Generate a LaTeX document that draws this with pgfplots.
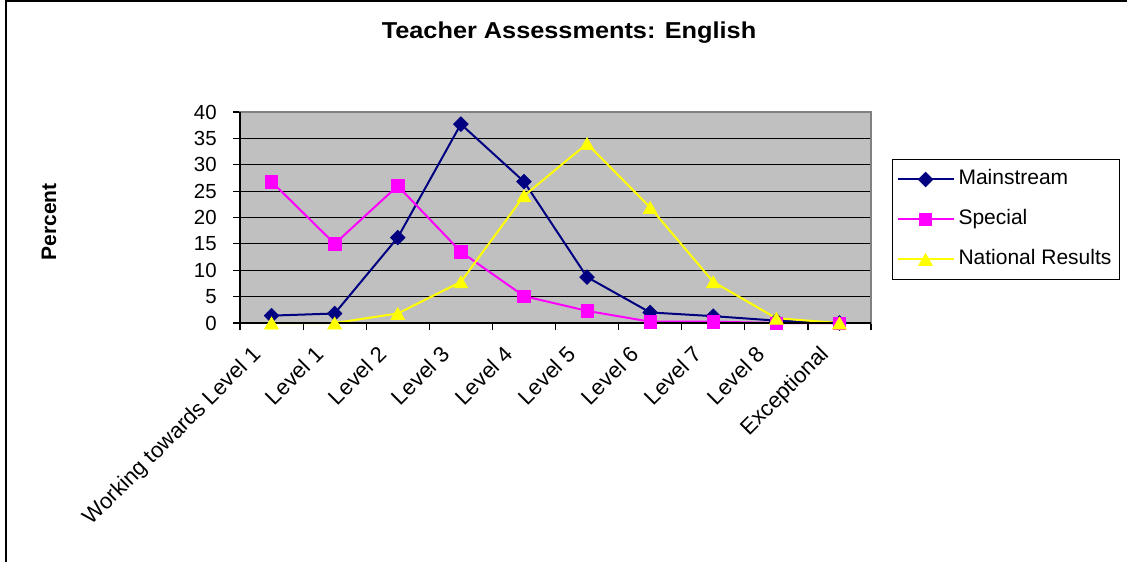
\documentclass[border=0pt]{standalone}
\usepackage{pgfplots}
\pgfplotsset{compat=1.18}
\usepackage{fontspec}
\setmainfont{Liberation Sans}
\definecolor{navyc}{HTML}{000080}
\definecolor{magc}{HTML}{FF00FF}
\definecolor{yelc}{HTML}{FFFF00}
\definecolor{bgc}{HTML}{C0C0C0}
\definecolor{brdc}{HTML}{808080}
\begin{document}
\begin{tikzpicture}[x=1pt,y=1pt]
\useasboundingbox (0,0) rectangle (563.5,281);
\draw[line width=1pt] (3,0) -- (3,280.3) -- (563.5,280.3);
\node[font=\bfseries\fontsize{11.5}{14}\selectfont, anchor=base, inner sep=0pt] at (284.5,261.85) {\scalebox{1.1}[1]{Teacher Assessments: English}};
\node[font=\bfseries\fontsize{10.5}{12}\selectfont, rotate=90, inner sep=0pt] at (24.5,170) {Percent};
\begin{axis}[
  at={(120pt,119.5pt)}, anchor=south west,
  scale only axis, width=315.5pt, height=105.5pt,
  xmin=-0.5, xmax=9.5, ymin=0, ymax=40,
  clip=false,
  axis background/.style={fill=bgc},
  axis line style={brdc, line width=0.8pt},
  ymajorgrids, grid style={black, line width=0.5pt},
  xtick={0,...,9},
  xticklabels={Working towards Level 1, Level 1, Level 2, Level 3, Level 4, Level 5, Level 6, Level 7, Level 8, Exceptional},
  minor xtick={-0.5,0.5,...,9.5},
  ytick={0,5,...,40},
  minor ytick={0,5,...,40},
  tick pos=left,
  major tick length=0pt, minor tick length=3.5pt,
  tick align=outside,
  tick style={black, line width=0.6pt},
  yticklabel style={font=\fontsize{10.2}{12}\selectfont},
  /pgf/number format/assume math mode=true,
  yticklabel style={anchor=east, inner sep=0pt, xshift=-11.5pt},
  xticklabel style={font=\fontsize{11}{13}\selectfont, xshift=-10.5pt, yshift=-10.5pt, rotate=45, anchor=north east, inner sep=0pt},
  legend style={at={(1.0333,0.7773)}, anchor=north west, draw=black, line width=0.5pt, fill=white,
    font=\fontsize{10.5}{12}\selectfont, inner xsep=2pt, inner ysep=0pt, row sep=0pt,
    nodes={text height=7.5pt, text depth=2.2pt, inner ysep=5.15pt, inner xsep=2pt}},
  legend cell align=left,
  legend image code/.code={\draw[mark repeat=2,mark phase=2,#1] plot coordinates {(0pt,0pt) (14pt,0pt) (28pt,0pt)};},
]
\addplot[color=navyc, line width=1pt, mark=square*, mark size=2.6pt, mark options={rotate=45, solid, fill=navyc, line width=0.3pt}]
  coordinates {(0,1.4) (1,1.8) (2,16.2) (3,37.7) (4,26.8) (5,8.7) (6,2.0) (7,1.3) (8,0.45) (9,0)};
\addplot[color=magc, line width=1pt, mark=square*, mark size=3.1pt, mark options={solid, fill=magc, line width=0.3pt}]
  coordinates {(0,26.8) (1,15.0) (2,26.0) (3,13.5) (4,5.1) (5,2.3) (6,0.25) (7,0.25) (8,0) (9,0)};
\addplot[color=yelc, line width=1pt, mark=triangle*, mark size=4pt, mark options={solid, fill=yelc, line width=0.3pt, yshift=-1pt}]
  coordinates {(0,0) (1,0) (2,1.8) (3,7.8) (4,24.1) (5,34.0) (6,21.9) (7,7.8) (8,0.9) (9,0)};
\legend{Mainstream, Special, National Results}
\draw[black, line width=0.8pt] (rel axis cs:0,1) -- (rel axis cs:0,0) -- (rel axis cs:1,0);
\end{axis}
\end{tikzpicture}
\end{document}
